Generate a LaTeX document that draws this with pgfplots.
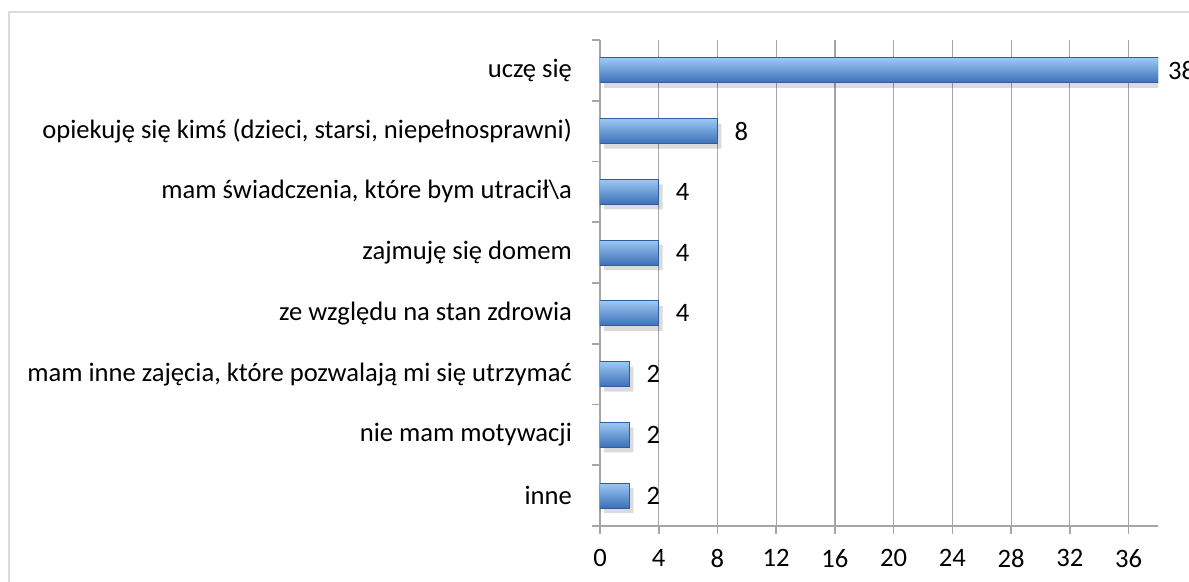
\documentclass[border=0pt]{standalone}
\usepackage{pgfplots}
\pgfplotsset{compat=1.18}
\usepackage{fontspec}
\setmainfont{Carlito}

\definecolor{framegray}{HTML}{DCDCDC}
\definecolor{axisgray}{HTML}{A6A6A6}
\definecolor{gridgray}{HTML}{A6A6A6}
\definecolor{barlight}{HTML}{9CC8F4}
\definecolor{barmid}{HTML}{5A98DD}
\definecolor{bardark}{HTML}{3C70B6}
\definecolor{baredge}{HTML}{2F5E9C}

\pgfplotsset{
    reasonbar/.style={
        xbar, bar width=12.5pt, bar shift=0pt,
        draw=baredge, line width=0.5pt,
        top color=barlight, middle color=barmid, bottom color=bardark,
        nodes near coords,
        every node near coord/.append style={
            font=\fontsize{13.3}{16}\selectfont, text=black,
            xshift=#1},
    },
    reasonbar/.default=5pt,
}

\begin{document}
\begin{tikzpicture}
\path[use as bounding box] (0,0) rectangle (594.5pt,291pt);
\clip (0,0) rectangle (594.5pt,291pt);
\draw[framegray, line width=1.2pt] (4.5pt,285pt) rectangle (640pt,-20pt);
\begin{axis}[
    at={(300pt,28pt)}, anchor=south west,
    scale only axis,
    width=279pt, height=243pt,
    xmin=0, xmax=38,
    ymin=-0.5, ymax=7.5,
    y dir=reverse,
    axis x line*=bottom,
    axis y line*=left,
    axis line style={axisgray, line width=0.8pt},
    xtick={0,4,...,36},
    minor xtick={0,4,...,36},
    xmajorgrids,
    grid style={gridgray, line width=0.6pt},
    ytick={0,...,7},
    yticklabels={
        uczę się,
        {opiekuję się kimś (dzieci, starsi, niepełnosprawni)},
        {mam świadczenia, które bym utracił\textbackslash a},
        zajmuję się domem,
        ze względu na stan zdrowia,
        {mam inne zajęcia, które pozwalają mi się utrzymać},
        nie mam motywacji,
        inne},
    minor ytick={-0.5,0.5,...,7.5},
    tick align=outside,
    major tick length=0pt,
    minor tick length=4pt,
    tick style={axisgray, line width=0.8pt},
    /pgf/number format/assume math mode=true,
    ticklabel style={font=\fontsize{13.3}{16}\selectfont},
    xticklabel style={yshift=-8pt},
    yticklabel style={xshift=-10.5pt},
]
% soft shadow under the bars
\addplot[xbar, bar width=12.5pt, bar shift=0pt, draw=none,
    fill=black, fill opacity=0.14, xshift=2pt, yshift=-2.5pt]
    coordinates {(38,0) (8,1) (4,2) (4,3) (4,4) (2,5) (2,6) (2,7)};
\addplot[reasonbar=1.5pt] coordinates {(38,0)};
\addplot[reasonbar] coordinates {(8,1)};
\addplot[reasonbar] coordinates {(4,2)};
\addplot[reasonbar] coordinates {(4,3)};
\addplot[reasonbar] coordinates {(4,4)};
\addplot[reasonbar] coordinates {(2,5)};
\addplot[reasonbar] coordinates {(2,6)};
\addplot[reasonbar] coordinates {(2,7)};
\end{axis}
\end{tikzpicture}
\end{document}
